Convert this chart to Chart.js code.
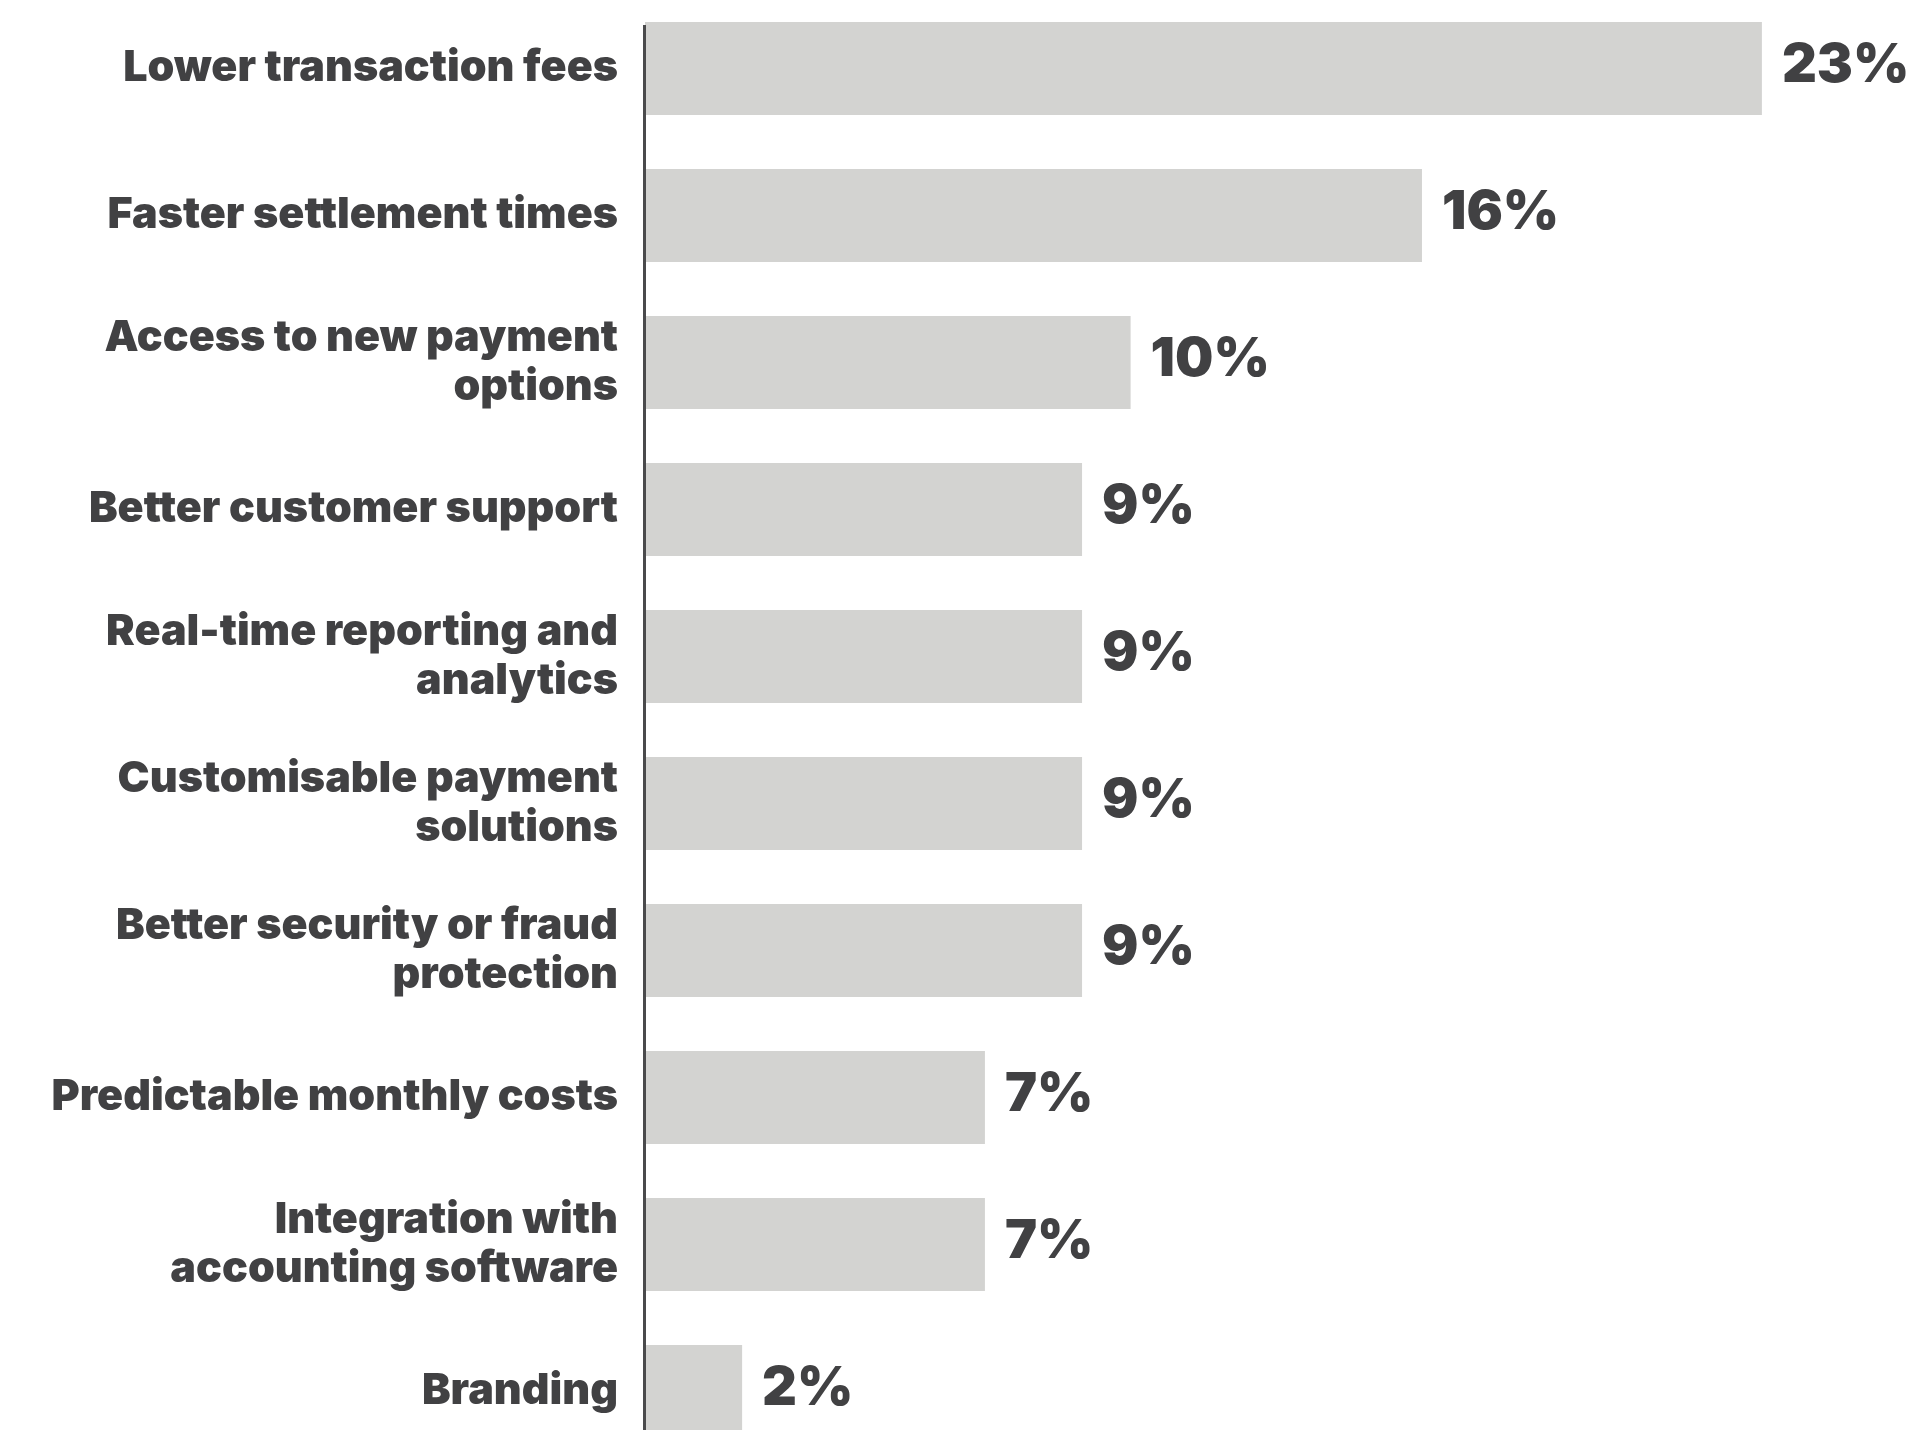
<!DOCTYPE html>
<html>
<head>
<meta charset="utf-8">
<script src="https://cdn.jsdelivr.net/npm/chart.js@4/dist/chart.umd.min.js"></script>
<style>
  html, body { margin: 0; padding: 0; background: #ffffff; overflow: hidden; }
  body { width: 1927px; height: 1430px; position: relative; }
  #wrap { position: absolute; left: 0; top: -20px; width: 1927px; height: 1500px; }
</style>
</head>
<body>
<div id="wrap"><canvas id="chart"></canvas></div>
<script>
// Reasons cited for choosing a payment provider (share of respondents, %)
const categories = [
  'Lower transaction fees',
  'Faster settlement times',
  ['Access to new payment', 'options'],
  'Better customer support',
  ['Real-time reporting and', 'analytics'],
  ['Customisable payment', 'solutions'],
  ['Better security or fraud', 'protection'],
  'Predictable monthly costs',
  ['Integration with', 'accounting software'],
  'Branding'
];
const shares = [23, 16, 10, 9, 9, 9, 9, 7, 7, 2];
const shareLabels = shares.map(v => v + '%');

const TEXT = '#414143';
const BAR = '#d3d3d1';

// Percentage labels at the end of each bar
const valueLabels = {
  id: 'valueLabels',
  afterDatasetsDraw(chart) {
    const { ctx } = chart;
    const meta = chart.getDatasetMeta(0);
    ctx.save();
    ctx.fillStyle = TEXT;
    ctx.font = '900 54px Inter';
    ctx.textAlign = 'left';
    ctx.textBaseline = 'middle';
    meta.data.forEach((bar, i) => {
      ctx.fillText(shareLabels[i], bar.x + 20, bar.y - 3);
    });
    ctx.restore();
  }
};

// Vertical baseline running down the left edge of the bars
const baseline = {
  id: 'baseline',
  afterDatasetsDraw(chart) {
    const { ctx, chartArea } = chart;
    const first = chart.getDatasetMeta(0).data[0];
    const top = first.y - first.height / 2 + 3;
    ctx.save();
    ctx.strokeStyle = '#4a4a4c';
    ctx.lineWidth = 3;
    ctx.beginPath();
    ctx.moveTo(chartArea.left - 0.5, top);
    ctx.lineTo(chartArea.left - 0.5, chart.height);
    ctx.stroke();
    ctx.restore();
  }
};

new Chart(document.getElementById('chart'), {
  type: 'bar',
  data: {
    labels: categories,
    datasets: [{
      data: shares,
      backgroundColor: BAR,
      borderWidth: 0,
      categoryPercentage: 1,
      barPercentage: 0.633
    }]
  },
  options: {
    indexAxis: 'y',
    responsive: true,
    maintainAspectRatio: false,
    animation: false,
    layout: { padding: { top: 15, bottom: 15, left: 0, right: 0 } },
    plugins: {
      legend: { display: false },
      tooltip: { enabled: false }
    },
    scales: {
      x: {
        display: false,
        min: 0,
        max: 26.4
      },
      y: {
        grid: { display: false, drawTicks: false },
        border: { display: false },
        ticks: {
          color: TEXT,
          padding: 27,
          font: { family: 'Inter', size: 43, weight: '900', lineHeight: 1.12 }
        },
        afterFit(scale) {
          scale.width = 645;
          scale.paddingTop = 0;
          scale.paddingBottom = 0;
        }
      }
    }
  },
  plugins: [valueLabels, baseline]
});
</script>
</body>
</html>
